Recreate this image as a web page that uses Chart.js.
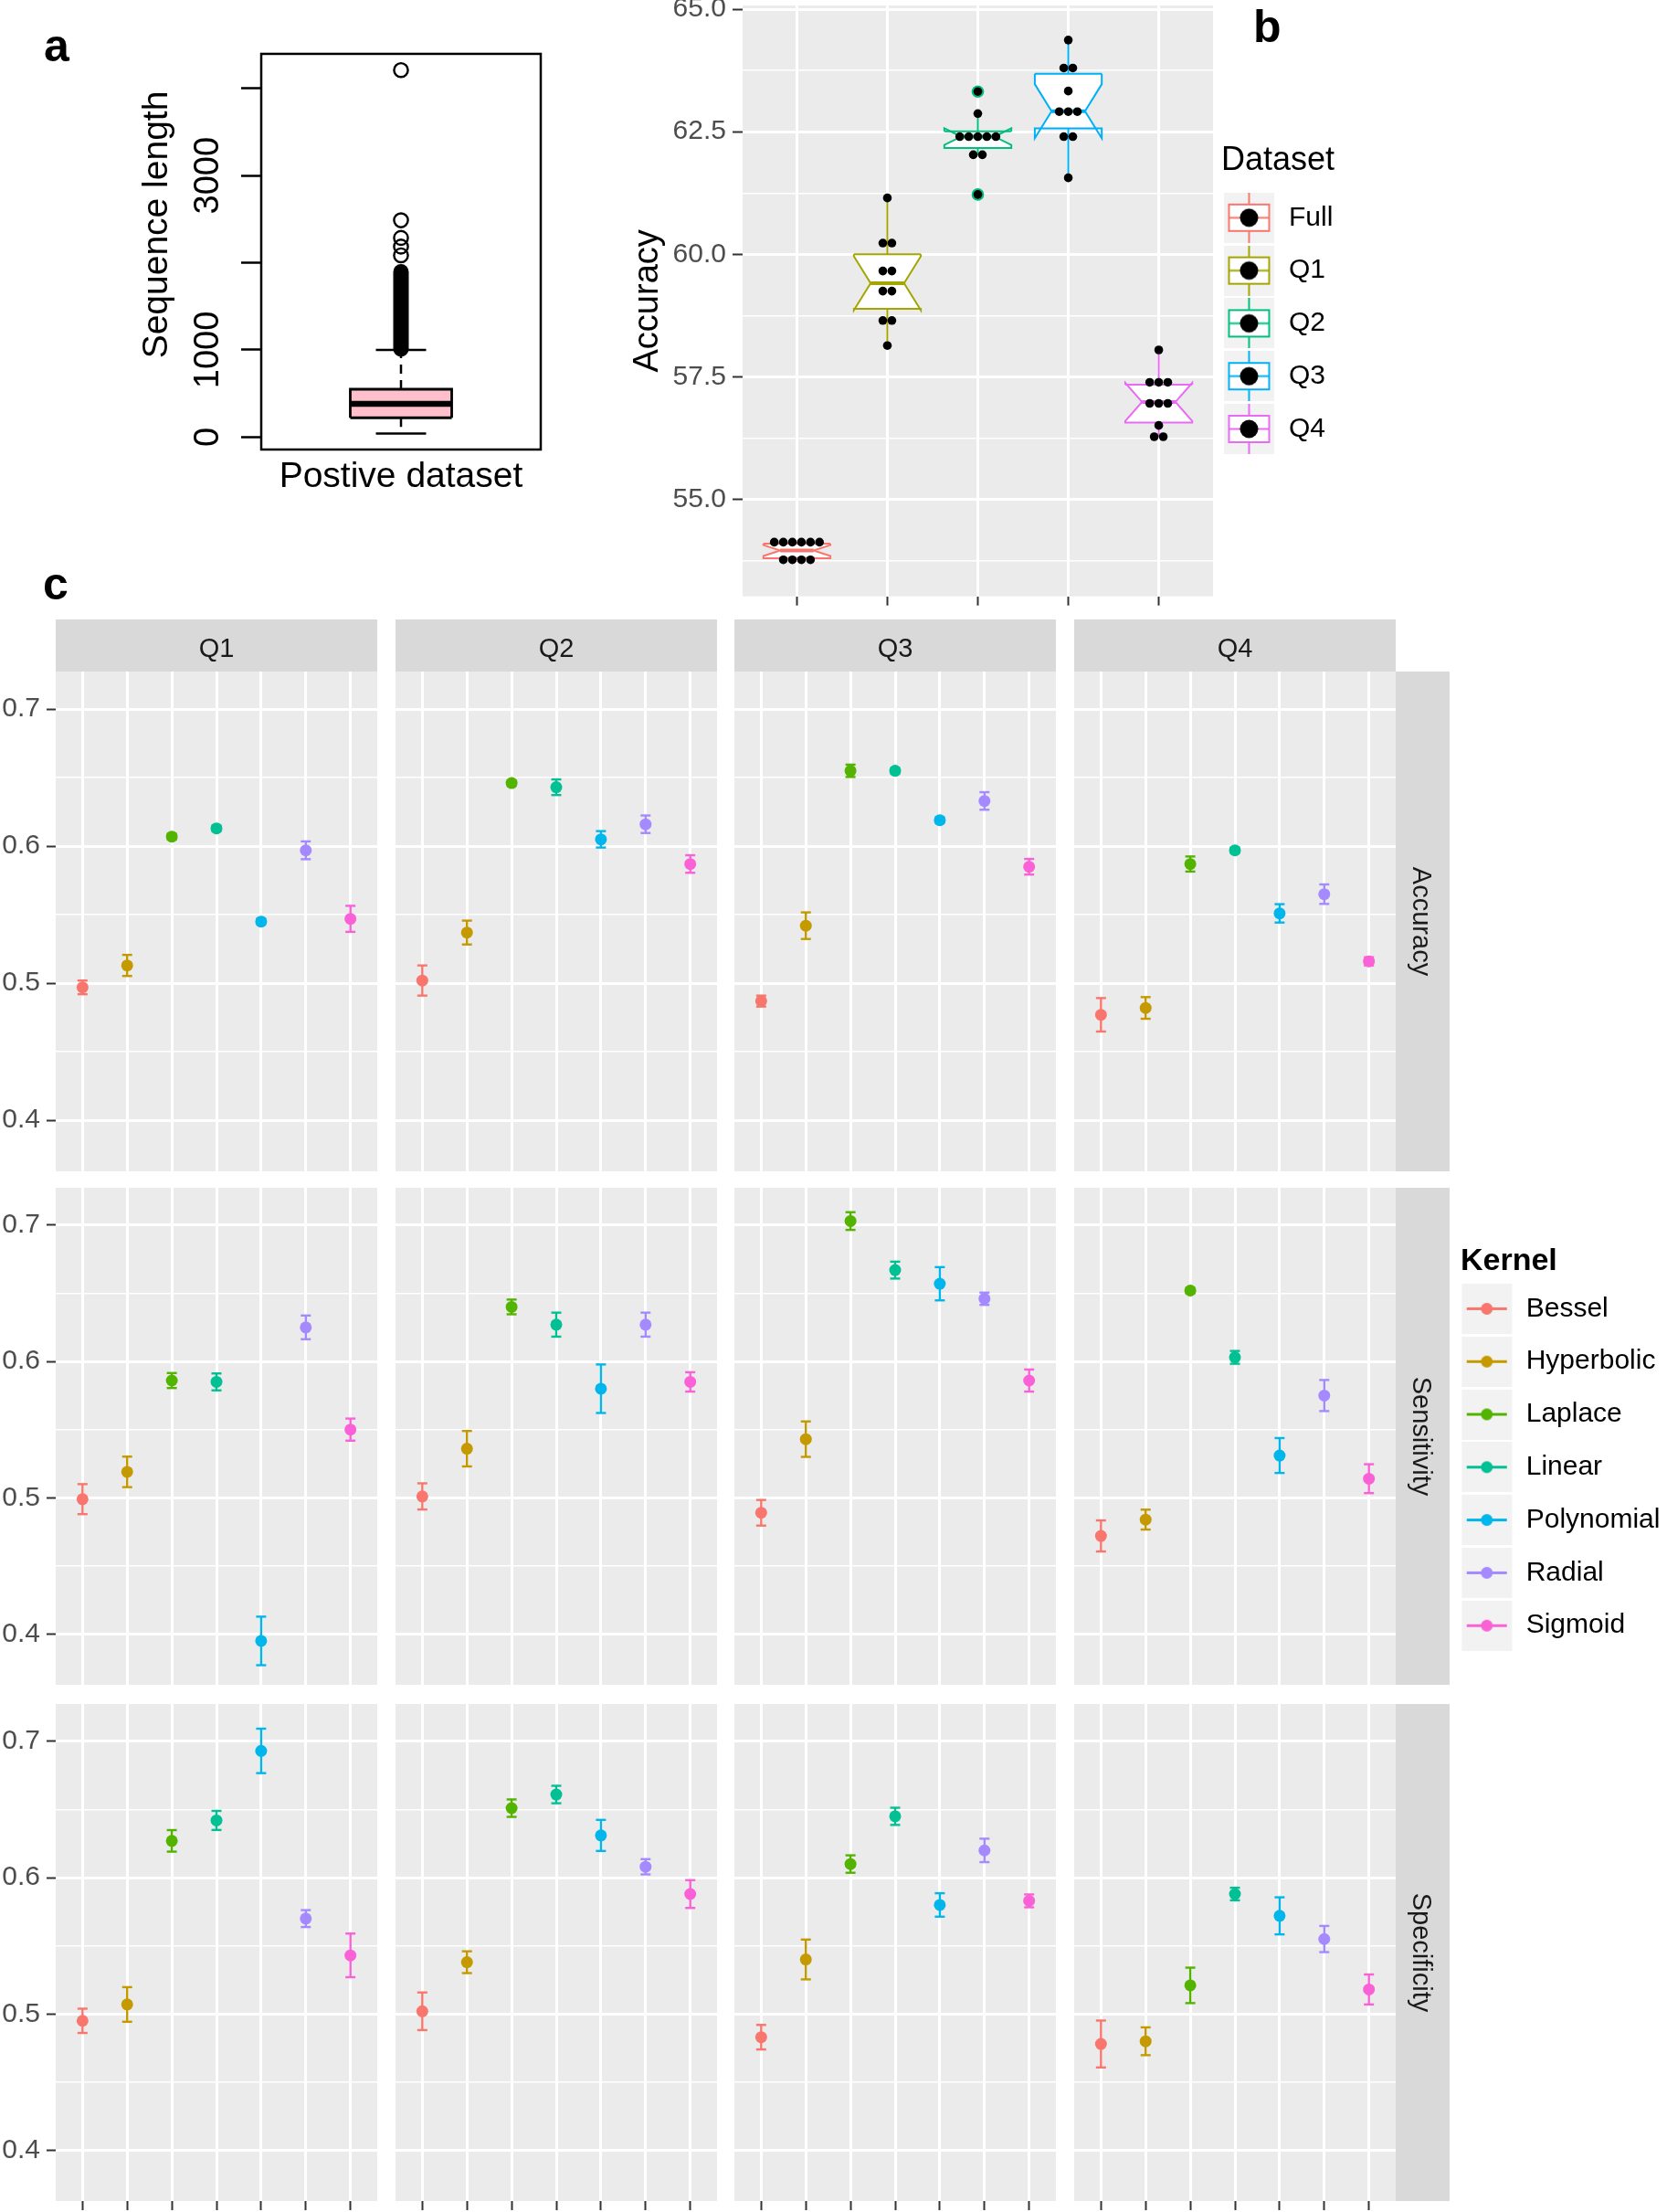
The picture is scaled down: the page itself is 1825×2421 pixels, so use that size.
<!DOCTYPE html>
<html>
<head>
<meta charset="utf-8">
<title>Sequence length, dataset accuracy and kernel performance</title>
<script src="https://cdn.jsdelivr.net/npm/chart.js@4.4.1/dist/chart.umd.min.js"></script>
<style>
  html, body { margin: 0; padding: 0; background: #fff; }
  body { position: relative; width: 1825px; height: 2421px; overflow: hidden; font-family: 'Liberation Sans', Arial, sans-serif; }
  .pane { position: absolute; }
  .tag { position: absolute; font-size: 50px; font-weight: bold; line-height: 1; color: #000; }
</style>
</head>
<body>
<div class="tag" style="left:48px;top:25px">a</div>
<div class="tag" style="left:1372px;top:4px">b</div>
<div class="tag" style="left:47px;top:614px">c</div>
<div class="pane" style="left:0;top:0;width:620px;height:560px"><canvas id="chartA"></canvas></div>
<div class="pane" style="left:640px;top:0;width:700px;height:680px"><canvas id="chartB"></canvas></div>
<div class="pane" style="left:1337px;top:157.7px;width:420px;height:400px"><canvas id="legendB"></canvas></div>
<div class="pane" style="left:1599.3px;top:1364px;width:480px;height:500px"><canvas id="legendC"></canvas></div>
<div id="facets"></div>
<script>
const FONT = "'Liberation Sans', Arial, Helvetica, sans-serif";
Chart.defaults.font.family = FONT;
Chart.defaults.color = '#000';
Chart.defaults.animation = false;
Chart.defaults.events = [];
Chart.defaults.responsive = true;
Chart.defaults.maintainAspectRatio = false;
Chart.defaults.layout.autoPadding = false;
Chart.defaults.plugins.legend.display = false;
Chart.defaults.plugins.tooltip.enabled = false;

// ---- panel a: sequence length of the positive dataset ----
const seqBox = [40, 221, 381, 549, 1000];      // lower whisker, Q1, median, Q3, upper whisker
const seqPacked = [1010, 1895];                // span of the densely packed outliers
const seqOutliers = [2085, 2185, 2285, 2487, 4210];
const seqTicks = [0, 1000, 2000, 3000, 4000];
const seqTickLabels = ['0', '1000', '', '3000', ''];
const seqRange = [-143, 5014];
const seqFrameTop = 4396;

// ---- panel b: accuracy per dataset ----
const datasetNames = ['Full', 'Q1', 'Q2', 'Q3', 'Q4'];
const datasetColors = ['#F8766D', '#A3A500', '#00BF7D', '#00B0F6', '#E76BF3'];
const bWhiskerLow = [53.77, 58.14, 62.03, 61.56, 56.28];
const bHingeLow = [53.80, 58.89, 62.17, 62.57, 56.57];
const bMedian = [53.96, 59.41, 62.40, 62.92, 56.99];
const bHingeHigh = [54.10, 60.00, 62.51, 63.68, 57.34];
const bWhiskerHigh = [54.13, 61.15, 62.87, 64.37, 58.05];
const bNotchLow = [53.85, 58.86, 62.23, 62.37, 56.60];
const bNotchHigh = [54.07, 59.96, 62.57, 63.47, 57.38];
const bOutliers = [[], [], [63.32, 61.22], [], []];
const runsFull = [54.13, 54.13, 54.13, 54.13, 54.13, 54.13, 53.77, 53.77, 53.77, 53.77];
const runsQ1 = [61.15, 60.23, 60.23, 59.66, 59.66, 59.25, 59.25, 58.65, 58.65, 58.14];
const runsQ2 = [63.32, 62.87, 62.40, 62.40, 62.40, 62.40, 62.40, 62.03, 62.03, 61.22];
const runsQ3 = [64.37, 63.80, 63.80, 63.33, 62.91, 62.91, 62.91, 62.40, 62.40, 61.56];
const runsQ4 = [58.05, 57.39, 57.39, 57.39, 56.96, 56.96, 56.96, 56.51, 56.28, 56.28];
const bRuns = [runsFull, runsQ1, runsQ2, runsQ3, runsQ4];
const bTicksMajor = [55, 57.5, 60, 62.5, 65];
const bTicksMinor = [53.75, 56.25, 58.75, 61.25, 63.75];
const bRange = [53.025, 65.075];

// ---- panel c: kernel performance (mean and error) ----
const kernels = ['Bessel', 'Hyperbolic', 'Laplace', 'Linear', 'Polynomial', 'Radial', 'Sigmoid'];
const kernelColors = ['#F8766D', '#C49A00', '#53B400', '#00C094', '#00B6EB', '#A58AFF', '#FB61D7'];
const quartiles = ['Q1', 'Q2', 'Q3', 'Q4'];
const metrics = ['Accuracy', 'Sensitivity', 'Specificity'];

const accuracyQ1 = [0.497, 0.513, 0.607, 0.613, 0.545, 0.597, 0.547];
const accuracyQ1Err = [0.005, 0.0077, 0.002, 0.002, 0.002, 0.0065, 0.0095];
const accuracyQ2 = [0.502, 0.537, 0.646, 0.643, 0.605, 0.616, 0.587];
const accuracyQ2Err = [0.011, 0.0087, 0.002, 0.0057, 0.006, 0.0064, 0.0064];
const accuracyQ3 = [0.487, 0.542, 0.655, 0.655, 0.619, 0.633, 0.585];
const accuracyQ3Err = [0.004, 0.0097, 0.0045, 0.002, 0.002, 0.0064, 0.0057];
const accuracyQ4 = [0.477, 0.482, 0.587, 0.597, 0.551, 0.565, 0.516];
const accuracyQ4Err = [0.0122, 0.0079, 0.0055, 0.002, 0.0067, 0.0071, 0.003];

const sensitivityQ1 = [0.499, 0.519, 0.586, 0.585, 0.395, 0.625, 0.550];
const sensitivityQ1Err = [0.011, 0.0112, 0.0055, 0.0062, 0.0178, 0.0087, 0.0081];
const sensitivityQ2 = [0.501, 0.536, 0.640, 0.627, 0.580, 0.627, 0.585];
const sensitivityQ2Err = [0.0096, 0.013, 0.0054, 0.0088, 0.0178, 0.0088, 0.0071];
const sensitivityQ3 = [0.489, 0.543, 0.703, 0.667, 0.657, 0.646, 0.586];
const sensitivityQ3Err = [0.0094, 0.013, 0.0065, 0.0062, 0.0122, 0.0045, 0.0081];
const sensitivityQ4 = [0.472, 0.484, 0.652, 0.603, 0.531, 0.575, 0.514];
const sensitivityQ4Err = [0.0114, 0.0073, 0.002, 0.0047, 0.0128, 0.0114, 0.0106];

const specificityQ1 = [0.495, 0.507, 0.627, 0.642, 0.693, 0.570, 0.543];
const specificityQ1Err = [0.0089, 0.0127, 0.0079, 0.007, 0.0163, 0.0062, 0.016];
const specificityQ2 = [0.502, 0.538, 0.651, 0.661, 0.631, 0.608, 0.588];
const specificityQ2Err = [0.0138, 0.008, 0.0064, 0.0064, 0.0114, 0.0056, 0.0102];
const specificityQ3 = [0.483, 0.540, 0.610, 0.645, 0.580, 0.620, 0.583];
const specificityQ3Err = [0.009, 0.0146, 0.0064, 0.0063, 0.0086, 0.0086, 0.0047];
const specificityQ4 = [0.478, 0.480, 0.521, 0.588, 0.572, 0.555, 0.518];
const specificityQ4Err = [0.0172, 0.0102, 0.013, 0.0046, 0.0136, 0.0096, 0.011];

const cTicksMajor = [0.4, 0.5, 0.6, 0.7];
const cTicksMinor = [0.45, 0.55, 0.65];
const cRange = [0.3628, 0.7274];

// lookup tables built from the arrays above
const cMeans = [
  [accuracyQ1, accuracyQ2, accuracyQ3, accuracyQ4],
  [sensitivityQ1, sensitivityQ2, sensitivityQ3, sensitivityQ4],
  [specificityQ1, specificityQ2, specificityQ3, specificityQ4]
];
const cErrs = [
  [accuracyQ1Err, accuracyQ2Err, accuracyQ3Err, accuracyQ4Err],
  [sensitivityQ1Err, sensitivityQ2Err, sensitivityQ3Err, sensitivityQ4Err],
  [specificityQ1Err, specificityQ2Err, specificityQ3Err, specificityQ4Err]
];

// ---------- helpers ----------
const isIn = (list, v) => list.some(m => Math.abs(m - v) < 1e-9);
const tickList = (...lists) => s => { s.ticks = [].concat(...lists).sort((a, b) => a - b).map(v => ({value: v})); };
const fixSize = (w, h) => s => {
  if (w !== null) s.width = w;
  if (h !== null) s.height = h;
  s.paddingTop = s.paddingBottom = s.paddingLeft = s.paddingRight = 0;
};

function seg(pts, color, width, extra) {
  return Object.assign({
    type: 'line',
    data: pts.map(p => ({x: p[0], y: p[1]})),
    borderColor: color, borderWidth: width, borderCapStyle: 'butt',
    pointRadius: 0, fill: false
  }, extra || {});
}

function stackDots(values, x, step) {
  const counts = new Map();
  values.forEach(v => counts.set(v, (counts.get(v) || 0) + 1));
  const pts = [];
  counts.forEach((n, v) => {
    for (let i = 0; i < n; i++) pts.push({x: x + (i - (n - 1) / 2) * step, y: v});
  });
  return pts;
}

const panelBg = {
  id: 'panelBg',
  beforeDraw(chart) {
    const {ctx, chartArea: a} = chart;
    ctx.save();
    ctx.fillStyle = '#EBEBEB';
    ctx.fillRect(a.left, a.top, a.right - a.left, a.bottom - a.top);
    ctx.restore();
  }
};

const topStrip = 57, rightStrip = 59.5;
const strips = {
  id: 'strips',
  afterDraw(chart, args, opts) {
    const {ctx, chartArea: a} = chart;
    ctx.save();
    ctx.font = '29px ' + FONT;
    ctx.textAlign = 'center';
    ctx.textBaseline = 'middle';
    if (opts.top) {
      ctx.fillStyle = '#D9D9D9';
      ctx.fillRect(a.left, a.top - topStrip, a.right - a.left, topStrip);
      ctx.fillStyle = '#1A1A1A';
      ctx.fillText(opts.top, (a.left + a.right) / 2, a.top - topStrip + 33);
    }
    if (opts.right) {
      ctx.fillStyle = '#D9D9D9';
      ctx.fillRect(a.right, a.top, rightStrip, a.bottom - a.top);
      ctx.fillStyle = '#1A1A1A';
      ctx.translate(a.right + 27, (a.top + a.bottom) / 2);
      ctx.rotate(Math.PI / 2);
      ctx.fillText(opts.right, 0, 0);
    }
    ctx.restore();
  }
};

// ---------- panel a ----------
const frameA = {
  id: 'frameA',
  afterDatasetsDraw(chart) {
    const {ctx, chartArea: a, scales: {y}} = chart;
    const top = y.getPixelForValue(seqFrameTop);
    ctx.save();
    ctx.strokeStyle = '#000';
    ctx.lineWidth = 2.5;
    ctx.strokeRect(a.left, top, a.right - a.left, a.bottom - top);
    ctx.restore();
  }
};

const ax = 1, boxHalf = 0.196, capHalf = 0.097;
const [wLo, hLo, med, hHi, wHi] = seqBox;
const aLayers = [
  seg([[ax, hHi], [ax, wHi]], '#000', 2.5, {borderDash: [10, 7]}),
  seg([[ax, hLo], [ax, wLo]], '#000', 2.5, {borderDash: [10, 7]}),
  seg([[ax - capHalf, wHi], [ax + capHalf, wHi]], '#000', 2.5),
  seg([[ax - capHalf, wLo], [ax + capHalf, wLo]], '#000', 2.5),
  seg([[ax - boxHalf, hLo], [ax - boxHalf, hHi], [ax + boxHalf, hHi], [ax + boxHalf, hLo]], '#000', 2.8,
      {fill: 'shape', backgroundColor: '#FFC0CB'}),
  seg([[ax - boxHalf, hLo], [ax + boxHalf, hLo]], '#000', 2.8),
  seg([[ax - boxHalf, med], [ax + boxHalf, med]], '#000', 6.5),
  seg([[ax, seqPacked[0]], [ax, seqPacked[1]]], '#000', 17, {borderCapStyle: 'round'}),
  {data: seqOutliers.map(v => ({x: ax, y: v})), pointRadius: 7.6, pointBorderWidth: 2.4,
   pointBorderColor: '#000', pointBackgroundColor: 'rgba(0,0,0,0)'}
];

new Chart(document.getElementById('chartA'), {
  type: 'scatter',
  data: {datasets: aLayers.reverse()},
  options: {
    layout: {padding: {right: 28}},
    scales: {
      x: {
        type: 'linear', min: 0.46, max: 1.54,
        ticks: {display: false}, grid: {display: false}, border: {display: false},
        title: {display: true, text: 'Postive dataset', color: '#000', font: {size: 39}, padding: {top: 0, bottom: 14}},
        afterFit: fixSize(null, 68)
      },
      y: {
        type: 'linear', min: seqRange[0], max: seqRange[1],
        afterBuildTicks: tickList(seqTicks),
        ticks: {autoSkip: false, minRotation: 90, maxRotation: 90, crossAlign: 'center', padding: -7,
                color: '#000', font: {size: 38}, callback: (v, i) => seqTickLabels[i]},
        grid: {drawOnChartArea: false, drawTicks: true, tickLength: 22, tickColor: '#000', tickWidth: 2.5},
        border: {display: false},
        title: {display: true, text: 'Sequence length', color: '#000', font: {size: 39}, padding: {top: 149, bottom: 0}},
        afterFit: fixSize(286, null)
      }
    }
  },
  plugins: [frameA]
});

// ---------- panel b ----------
const bHalf = 0.37, nHalf = 0.185;
const bLayers = [];
datasetNames.forEach((name, g) => {
  const x = g + 1, col = datasetColors[g];
  bLayers.push(seg([[x, bHingeHigh[g]], [x, bWhiskerHigh[g]]], col, 2));
  bLayers.push(seg([[x, bHingeLow[g]], [x, bWhiskerLow[g]]], col, 2));
  bLayers.push(seg([
    [x - bHalf, bHingeHigh[g]], [x - bHalf, bNotchHigh[g]], [x - nHalf, bMedian[g]], [x - bHalf, bNotchLow[g]], [x - bHalf, bHingeLow[g]],
    [x + bHalf, bHingeLow[g]], [x + bHalf, bNotchLow[g]], [x + nHalf, bMedian[g]], [x + bHalf, bNotchHigh[g]], [x + bHalf, bHingeHigh[g]]
  ], col, 2, {fill: 'shape', backgroundColor: '#FFFFFF'}));
  bLayers.push(seg([[x - bHalf, bHingeHigh[g]], [x + bHalf, bHingeHigh[g]]], col, 2));
  bLayers.push(seg([[x - nHalf, bMedian[g]], [x + nHalf, bMedian[g]]], col, 4));
  if (bOutliers[g].length) {
    bLayers.push({data: bOutliers[g].map(v => ({x, y: v})), pointRadius: 6.8, pointBorderWidth: 0, pointBackgroundColor: col});
  }
  bLayers.push({data: stackDots(bRuns[g], x, 0.1), pointRadius: 4.8, pointBorderWidth: 0, pointBackgroundColor: '#000'});
});

new Chart(document.getElementById('chartB'), {
  type: 'scatter',
  data: {datasets: bLayers.reverse()},
  options: {
    layout: {padding: {top: 6, right: 12}},
    scales: {
      x: {
        type: 'linear', min: 0.4, max: 5.6,
        afterBuildTicks: s => { s.ticks = datasetNames.map((n, i) => ({value: i + 1})); },
        ticks: {display: false}, border: {display: false},
        grid: {color: '#FFFFFF', lineWidth: 3, drawTicks: true, tickLength: 10, tickColor: '#333333', tickWidth: 2},
        afterFit: fixSize(null, 27.3)
      },
      y: {
        type: 'linear', min: bRange[0], max: bRange[1],
        afterBuildTicks: tickList(bTicksMajor, bTicksMinor),
        ticks: {autoSkip: false, padding: 7, color: '#4D4D4D', font: {size: 30},
                callback: v => isIn(bTicksMajor, v) ? v.toFixed(1) : ''},
        grid: {color: '#FFFFFF', lineWidth: c => isIn(bTicksMajor, c.tick.value) ? 3 : 1.5,
               drawTicks: true, tickLength: 11, tickWidth: 2,
               tickColor: c => isIn(bTicksMajor, c.tick.value) ? '#333333' : 'rgba(0,0,0,0)'},
        border: {display: false},
        title: {display: true, text: 'Accuracy', color: '#000', font: {size: 38}, padding: {top: 47, bottom: 0}},
        afterFit: fixSize(173, null)
      }
    }
  },
  plugins: [panelBg]
});

// ---------- legends ----------
function boxKey(color) {
  const c = document.createElement('canvas');
  c.width = 81; c.height = 55;
  const g = c.getContext('2d');
  g.fillStyle = '#F2F2F2'; g.fillRect(0, 0, 55, 55);
  g.strokeStyle = color; g.lineWidth = 2;
  g.beginPath(); g.moveTo(27.5, 0); g.lineTo(27.5, 13); g.moveTo(27.5, 42); g.lineTo(27.5, 55); g.stroke();
  g.fillStyle = '#FFFFFF'; g.fillRect(5.5, 13, 44, 29); g.strokeRect(5.5, 13, 44, 29);
  g.beginPath(); g.moveTo(5.5, 27.5); g.lineTo(49.5, 27.5); g.stroke();
  g.fillStyle = '#000'; g.beginPath(); g.arc(27.5, 27.5, 10, 0, Math.PI * 2); g.fill();
  return c;
}
function lineKey(color) {
  const c = document.createElement('canvas');
  c.width = 83; c.height = 55;
  const g = c.getContext('2d');
  g.fillStyle = '#F2F2F2'; g.fillRect(0.5, 0, 55, 55);
  g.strokeStyle = color; g.lineWidth = 3;
  g.beginPath(); g.moveTo(6, 27.5); g.lineTo(50, 27.5); g.stroke();
  g.fillStyle = color; g.beginPath(); g.arc(28, 27.5, 6.5, 0, Math.PI * 2); g.fill();
  return c;
}

function legendOnly(canvas, title, titleFont, names, icons, boxW) {
  new Chart(canvas, {
    type: 'scatter',
    data: {datasets: names.map(n => ({label: n, data: []}))},
    options: {
      scales: {x: {display: false}, y: {display: false}},
      plugins: {
        legend: {
          display: true, position: 'left', align: 'start',
          title: {display: true, text: title, position: 'start', color: '#000', font: titleFont, padding: 0},
          labels: {
            usePointStyle: true, pointStyleWidth: boxW, padding: 27.8, color: '#000', textAlign: 'left',
            font: {size: 30},
            generateLabels: () => names.map((n, i) => ({
              text: n, pointStyle: icons[i], datasetIndex: i, hidden: false,
              lineWidth: 0, fillStyle: 'rgba(0,0,0,0)', strokeStyle: 'rgba(0,0,0,0)'
            }))
          }
        }
      }
    }
  });
}

legendOnly(document.getElementById('legendB'), 'Dataset', {size: 36, lineHeight: '37.5px'},
           datasetNames, datasetColors.map(boxKey), 31.2);
legendOnly(document.getElementById('legendC'), 'Kernel', {size: 34, weight: 'bold', lineHeight: '25.6px'},
           kernels, kernelColors.map(lineKey), 28.9);

// ---------- panel c: facets ----------
const facetLeft = [61, 432.5, 804, 1175.5];
const facetTop = [735, 1300, 1865];
const facetW = 352, facetH = [547, 544, 544];
const yAxisW = 61, xAxisH = 12;

function makeFacet(canvas, r, c) {
  const means = cMeans[r][c], errs = cErrs[r][c];
  const isLeft = c === 0, isBottom = r === 2;
  const layers = [];
  kernels.forEach((k, i) => {
    layers.push(seg([[i + 1, means[i] - errs[i]], [i + 1, means[i] + errs[i]]], kernelColors[i], 2.4, {
      pointStyle: 'line', pointRadius: 5.5, pointBorderWidth: 2.4, pointBorderColor: kernelColors[i]
    }));
  });
  layers.push({data: means.map((m, i) => ({x: i + 1, y: m})), pointRadius: 6.5, pointBorderWidth: 0,
               pointBackgroundColor: kernelColors});
  new Chart(canvas, {
    type: 'scatter',
    data: {datasets: layers.reverse()},
    options: {
      layout: {padding: {top: r === 0 ? topStrip : 0, right: c === 3 ? rightStrip : 0}},
      scales: {
        x: {
          type: 'linear', min: 0.4, max: 7.6,
          afterBuildTicks: s => { s.ticks = kernels.map((k, i) => ({value: i + 1})); },
          ticks: {display: false}, border: {display: false},
          grid: {color: '#FFFFFF', lineWidth: 3, drawTicks: isBottom, tickLength: 10, tickColor: '#333333', tickWidth: 2},
          afterFit: fixSize(null, isBottom ? xAxisH : 0)
        },
        y: {
          type: 'linear', min: cRange[0], max: cRange[1],
          afterBuildTicks: tickList(cTicksMajor, cTicksMinor),
          ticks: {display: isLeft, autoSkip: false, padding: 7, color: '#4D4D4D', font: {size: 30},
                  callback: v => isIn(cTicksMajor, v) ? v.toFixed(1) : ''},
          grid: {color: '#FFFFFF', lineWidth: ctx => isIn(cTicksMajor, ctx.tick.value) ? 3 : 1.5,
                 drawTicks: isLeft, tickLength: 10, tickWidth: 2,
                 tickColor: ctx => isIn(cTicksMajor, ctx.tick.value) ? '#333333' : 'rgba(0,0,0,0)'},
          border: {display: false},
          afterFit: fixSize(isLeft ? yAxisW : 0, null)
        }
      },
      plugins: {strips: {top: r === 0 ? quartiles[c] : null, right: c === 3 ? metrics[r] : null}}
    },
    plugins: [panelBg, strips]
  });
}

const host = document.getElementById('facets');
metrics.forEach((metric, r) => {
  quartiles.forEach((q, c) => {
    const left = c === 0 ? 0 : facetLeft[c];
    const top = r === 0 ? facetTop[0] - topStrip : facetTop[r];
    const w = (c === 0 ? yAxisW : 0) + facetW + (c === 3 ? rightStrip : 0);
    const h = (r === 0 ? topStrip : 0) + facetH[r] + (r === 2 ? xAxisH : 0);
    const div = document.createElement('div');
    div.className = 'pane';
    div.style.cssText = 'left:' + left + 'px;top:' + top + 'px;width:' + w + 'px;height:' + h + 'px';
    const cv = document.createElement('canvas');
    div.appendChild(cv);
    host.appendChild(div);
    makeFacet(cv, r, c);
  });
});
</script>
</body>
</html>
